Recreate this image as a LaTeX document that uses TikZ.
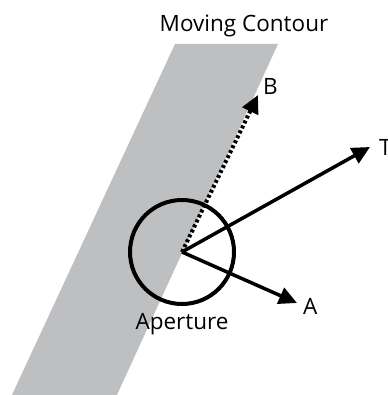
\documentclass[tikz,border=0pt]{standalone}
\usepackage{fontspec}
\setmainfont{Open Sans}
\usetikzlibrary{arrows.meta,positioning}
\definecolor{bandgray}{RGB}{190,191,193}

\begin{document}
\begin{tikzpicture}[x=1pt, y=-1pt,
      lbl/.style = {font=\fontsize{22.5}{26}\selectfont, inner sep=0pt},
      vec/.style = {line width=3.5pt, -{Triangle[length=18pt, width=17pt]}},
      aper/.style = {draw, circle, line width=4pt, minimum size=104pt, inner sep=0pt}]
      \useasboundingbox (0,0) rectangle (387,395);
      \clip (0,0) rectangle (387,395);

      % moving contour (band)
      \fill[bandgray] (175,44) -- (278,44) -- (116,397) -- (11,397) -- cycle;
      \node[lbl, anchor=base] (mc) at (244,32) {Moving Contour};

      % aperture and vectors
      \node[aper] (ap) at (182,252) {};
      \coordinate (b) at (258,95);
      \coordinate (t) at (370,147);
      \coordinate (a) at (297,303);

      \draw[vec, dash pattern=on 3pt off 2.5pt, line width=4pt] (ap.center) -- (b);
      \draw[vec] (ap.center) -- (t);
      \draw[vec] (ap.center) -- (a);

      \node[lbl, above right=0pt and 5pt of b] (lb) {B};
      \node[lbl, right=9pt of t] (lt) {T};
      \node[lbl, right=6pt of a, yshift=-3pt] (la) {A};
      \node[lbl, below=7pt of ap] (lap) {Aperture};
    \end{tikzpicture}
\end{document}
